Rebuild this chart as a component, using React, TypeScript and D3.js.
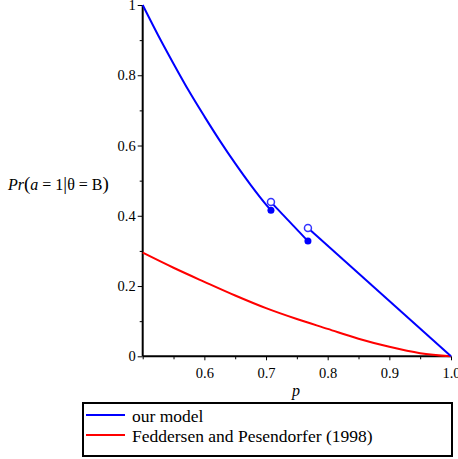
import React, { useEffect, useRef } from 'react';
import * as d3 from 'd3';

// our model, first branch (p from 0.5 up to the first jump)
const blueSeg1P = [0.5, 0.525, 0.55, 0.575, 0.6, 0.625, 0.65, 0.675, 0.7, 0.708];
const blueSeg1V = [1, 0.914, 0.833, 0.755, 0.683, 0.614, 0.549, 0.488, 0.432, 0.416];
// our model, middle branch
const blueSeg2P = [0.708, 0.768];
const blueSeg2V = [0.439, 0.328];
// our model, last branch
const blueSeg3P = [0.768, 1.0];
const blueSeg3V = [0.365, 0];

// Feddersen and Pesendorfer (1998)
const redP = [0.5, 0.55, 0.6, 0.65, 0.7, 0.75, 0.8, 0.85, 0.9, 0.95, 1.0];
const redV = [0.295, 0.252, 0.212, 0.173, 0.137, 0.106, 0.078, 0.05, 0.027, 0.009, 0];

// jump points
const filledP = [0.708, 0.768];
const filledV = [0.416, 0.328];
const openP = [0.708, 0.768];
const openV = [0.439, 0.365];

const xMajor = [0.6, 0.7, 0.8, 0.9, 1.0];
const xMinor = [0.5, 0.55, 0.65, 0.75, 0.85, 0.95];
const yMajor = [0, 0.2, 0.4, 0.6, 0.8, 1];
const yMinor = [0.1, 0.3, 0.5, 0.7, 0.9];

const legendLabels = ['our model', 'Feddersen and Pesendorfer (1998)'];
const legendColors = ['#0000ff', '#ff0000'];

const W = 458;
const H = 459;
const FONT = '"Liberation Serif", "Times New Roman", serif';

export default function App() {
  const svgRef = useRef<SVGSVGElement>(null);

  useEffect(() => {
    if (!svgRef.current) return;
    const svg = d3.select(svgRef.current);
    svg.selectAll('*').remove();

    const x = d3.scaleLinear().domain([0.5, 1]).range([142.7, 451]);
    const y = d3.scaleLinear().domain([0, 1]).range([356.3, 5]);

    // axes lines
    svg.append('line')
      .attr('x1', x(0.5)).attr('x2', x(0.5))
      .attr('y1', y(1)).attr('y2', y(0))
      .attr('stroke', '#000').attr('stroke-width', 2);
    svg.append('line')
      .attr('x1', x(0.5)).attr('x2', x(1))
      .attr('y1', y(0)).attr('y2', y(0))
      .attr('stroke', '#000').attr('stroke-width', 2);

    // y axis
    const yAxis = d3.axisLeft(y)
      .tickValues(yMajor)
      .tickSize(5)
      .tickPadding(2)
      .tickFormat((d) => (d === 0 ? '0' : d === 1 ? '1' : d3.format('.1f')(Number(d))));
    const gy = svg.append('g').attr('transform', `translate(${x(0.5)},0)`).call(yAxis);
    const gyMinor = svg.append('g').attr('transform', `translate(${x(0.5)},0)`)
      .call(d3.axisLeft(y).tickValues(yMinor).tickSize(3).tickFormat(() => ''));

    // x axis
    const xAxis = d3.axisBottom(x)
      .tickValues(xMajor)
      .tickSize(4)
      .tickPadding(7)
      .tickFormat((d) => d3.format('.1f')(Number(d)));
    const gx = svg.append('g').attr('transform', `translate(0,${y(0)})`).call(xAxis);
    const gxMinor = svg.append('g').attr('transform', `translate(0,${y(0)})`)
      .call(d3.axisBottom(x).tickValues(xMinor).tickSize(3).tickFormat(() => ''));

    [gy, gyMinor, gx, gxMinor].forEach((g) => {
      g.select('.domain').remove();
      g.attr('font-family', FONT).attr('font-size', 14.5);
      g.selectAll('line').attr('stroke', '#000').attr('stroke-width', 1);
      g.selectAll('text')
        .attr('fill', '#000')
        .style('font-family', FONT)
        .style('font-size', '14.5px');
    });

    // curves
    const line = d3.line<[number, number]>()
      .x((d) => x(d[0]))
      .y((d) => y(d[1]))
      .curve(d3.curveMonotoneX);

    const series: [number[], number[], string][] = [
      [redP, redV, '#ff0000'],
      [blueSeg1P, blueSeg1V, '#0000ff'],
      [blueSeg2P, blueSeg2V, '#0000ff'],
      [blueSeg3P, blueSeg3V, '#0000ff'],
    ];
    series.forEach(([ps, vs, color]) => {
      svg.append('path')
        .datum(ps.map((p, i) => [p, vs[i]] as [number, number]))
        .attr('d', line)
        .attr('fill', 'none')
        .attr('stroke', color)
        .attr('stroke-width', 2);
    });

    // jump markers
    svg.selectAll('.filled')
      .data(filledP)
      .enter()
      .append('circle')
      .attr('class', 'filled')
      .attr('cx', (d) => x(d))
      .attr('cy', (_d, i) => y(filledV[i]))
      .attr('r', 3.5)
      .attr('fill', '#0000ff');
    svg.selectAll('.open')
      .data(openP)
      .enter()
      .append('circle')
      .attr('class', 'open')
      .attr('cx', (d) => x(d))
      .attr('cy', (_d, i) => y(openV[i]))
      .attr('r', 3.5)
      .attr('fill', '#fff')
      .attr('stroke', '#3333ff')
      .attr('stroke-width', 1.5);

    // x label
    svg.append('text')
      .attr('x', 296)
      .attr('y', 396)
      .attr('text-anchor', 'middle')
      .attr('font-family', FONT)
      .attr('font-style', 'italic')
      .attr('font-size', 16)
      .text('p');

    // y label
    const yl = svg.append('text')
      .attr('x', 8)
      .attr('y', 190)
      .attr('font-family', FONT)
      .attr('font-size', 16)
      .attr('xml:space', 'preserve');
    yl.append('tspan').attr('font-style', 'italic').text('Pr');
    yl.append('tspan').attr('font-size', 19).text('(');
    yl.append('tspan').attr('font-style', 'italic').text('a');
    yl.append('tspan').text(' = 1');
    yl.append('tspan').attr('font-size', 19).text('|');
    yl.append('tspan').text('θ = B');
    yl.append('tspan').attr('font-size', 19).text(')');

    // legend
    svg.append('rect')
      .attr('x', 83)
      .attr('y', 403)
      .attr('width', 369)
      .attr('height', 53)
      .attr('fill', '#fff')
      .attr('stroke', '#000')
      .attr('stroke-width', 2);
    legendLabels.forEach((label, i) => {
      const ly = 415 + i * 20;
      svg.append('line')
        .attr('x1', 86).attr('x2', 125)
        .attr('y1', ly).attr('y2', ly)
        .attr('stroke', legendColors[i])
        .attr('stroke-width', 2);
      svg.append('text')
        .attr('x', 132)
        .attr('y', ly + 6.5)
        .attr('font-family', FONT)
        .attr('font-size', 17.5)
        .attr('fill', '#000')
        .text(label);
    });
  }, []);

  return (
    <svg
      ref={svgRef}
      width={W}
      height={H}
      style={{ position: 'absolute', left: 0, top: 0, background: '#fff' }}
    />
  );
}
